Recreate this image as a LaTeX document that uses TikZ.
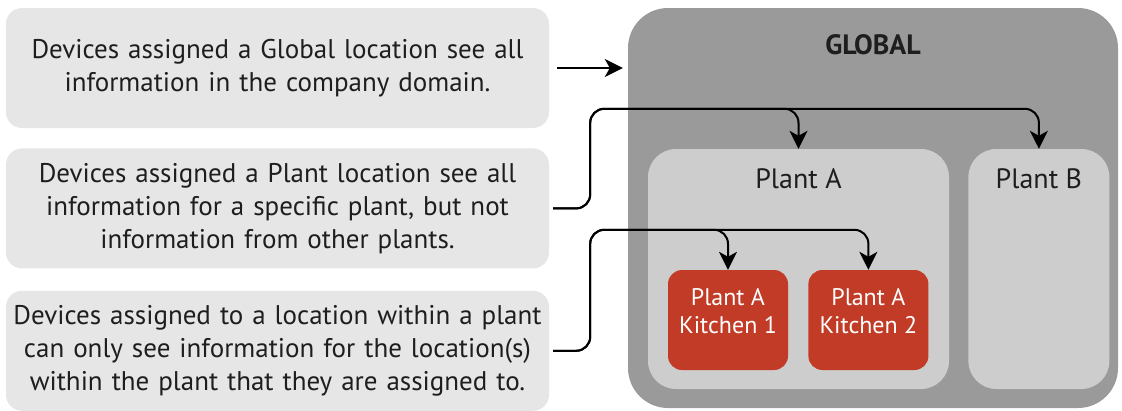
\documentclass[tikz,border=0pt]{standalone}
\usepackage{fontspec}
\setmainfont{PT Sans}
\usetikzlibrary{positioning,arrows.meta}

\definecolor{notegrey}{HTML}{E6E6E6}
\definecolor{globalgrey}{HTML}{9A9A9A}
\definecolor{plantgrey}{HTML}{CDCDCD}
\definecolor{kitchenred}{HTML}{C13B26}
\definecolor{inkdark}{HTML}{1E1E1E}

\begin{document}
\begin{tikzpicture}[x=1pt, y=-1pt]
	\tikzstyle{note}=[rectangle, rounded corners=16pt, fill=notegrey, minimum width=539pt, minimum height=120pt, inner sep=4pt, text width=535pt, align=center, text=inkdark, font=\fontsize{27}{33}\selectfont]
	\tikzstyle{area}=[rectangle, rounded corners=40pt, fill=globalgrey, minimum width=490pt, minimum height=400pt]
	\tikzstyle{plant}=[rectangle, rounded corners=28pt, fill=plantgrey, minimum height=240pt]
	\tikzstyle{kitchen}=[rectangle, rounded corners=14pt, fill=kitchenred, minimum width=120pt, minimum height=100pt]
	\tikzstyle{title}=[inner sep=0pt, text=inkdark, font=\fontsize{28}{32}\selectfont]
	\tikzstyle{ktext}=[inner sep=0pt, align=center, text=white, font=\fontsize{24}{28}\selectfont]
	\tikzstyle{connect}=[line width=2pt, draw=black, rounded corners=14pt, -{Stealth[length=18pt, width=18pt, inset=5pt]}]

	\useasboundingbox (0,0) rectangle (1122,410);

	% the three notes on the left
	\node[note] (gnote) at (277.5,68) {Devices assigned a Global location see all\\information in the company domain.};
	\node[note] (pnote) [below=20pt of gnote] {Devices assigned a Plant location see all\\information for a specific plant, but not\\information from other plants.};
	\node[note] (lnote) [below=22pt of pnote] {Devices assigned to a location within a plant\\can only see information for the location(s)\\within the plant that they are assigned to.};

	% the location tree
	\node[area]                          (global) at (873,208) {};
	\node[title, font=\fontsize{28}{32}\selectfont\bfseries] (gtitle) [below=27pt of global.north] {GLOBAL};

	\node[plant, minimum width=301pt]    (plantA) at (798.5,269) {};
	\node[plant, minimum width=141pt]    (plantB) [right=19pt of plantA] {};
	\node[title]                         (tA) [below=20pt of plantA.north] {Plant A};
	\node[title]                         (tB) [below=20pt of plantB.north] {Plant B};

	\node[kitchen]                       (k1) at (728,320) {};
	\node[kitchen]                       (k2) [right=20pt of k1] {};
	\node[ktext]                         (k1t) [below=18pt of k1.north] {Plant A\\Kitchen 1};
	\node[ktext]                         (k2t) [below=18pt of k2.north] {Plant A\\Kitchen 2};

	% connectors
	\coordinate (pbend) at ([xshift=41pt]pnote.east);
	\coordinate (lbend) at ([xshift=41pt]lnote.east);

	\draw[connect] ([xshift=8pt]gnote.east) -- ([xshift=-5pt]gnote.east -| global.west);

	\draw[connect] ([xshift=4pt]pnote.east) -- (pbend) |- ([yshift=40pt]plantA.north) -- (plantA.north);
	\draw[connect] ([xshift=4pt]pnote.east) -- (pbend) |- ([yshift=40pt]plantB.north) -- (plantB.north);

	\draw[connect] ([xshift=4pt]lnote.east) -- (lbend) |- ([yshift=40pt]k1.north) -- (k1.north);
	\draw[connect] ([xshift=4pt]lnote.east) -- (lbend) |- ([yshift=40pt]k2.north) -- (k2.north);
\end{tikzpicture}
\end{document}
